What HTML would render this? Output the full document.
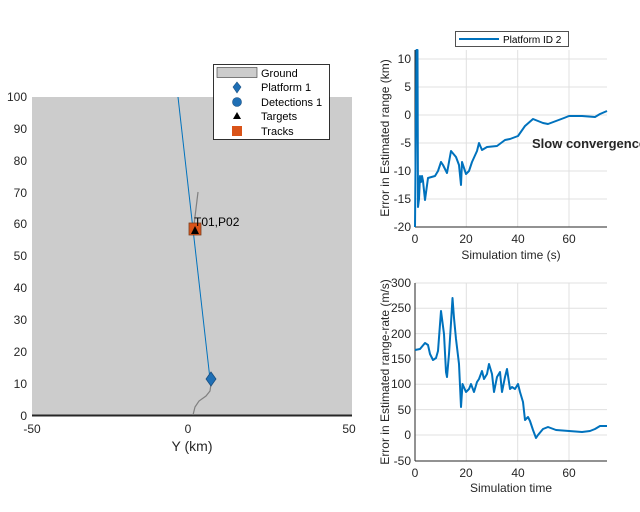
<!DOCTYPE html>
<html><head><meta charset="utf-8"><style>
html,body{margin:0;padding:0;background:#fff;overflow:hidden;}
svg{display:block;font-family:"Liberation Sans",sans-serif;}
</style></head><body>
<svg width="640" height="512" viewBox="0 0 640 512">
<rect x="32" y="97" width="320" height="319" fill="#cccccc"/>
<line x1="32" y1="415.5" x2="352" y2="415.5" stroke="#262626" stroke-width="2"/>
<g font-size="12" fill="#262626" text-anchor="end">
<text x="27" y="420">0</text><text x="27" y="388">10</text><text x="27" y="356">20</text>
<text x="27" y="324">30</text><text x="27" y="292">40</text><text x="27" y="260">50</text>
<text x="27" y="228">60</text><text x="27" y="197">70</text><text x="27" y="165">80</text>
<text x="27" y="133">90</text><text x="27" y="101">100</text>
</g>
<g font-size="12" fill="#262626" text-anchor="middle">
<text x="32" y="433">-50</text><text x="188" y="433">0</text><text x="349" y="433">50</text>
<text x="192" y="451" font-size="14">Y (km)</text>
</g>
<polyline points="198,192 194,225" fill="none" stroke="#808080" stroke-width="1.2"/>
<polyline points="211,384 210,391 206,396 199,401 195,407 193,415" fill="none" stroke="#808080" stroke-width="1.2"/>
<line x1="178" y1="97" x2="210" y2="379" stroke="#0072bd" stroke-width="1"/>
<polygon points="211,372 216,379 211,386 206,379" fill="#1f6fb5" stroke="#1a4f80" stroke-width="0.8"/>
<rect x="189" y="223" width="12" height="12" fill="#d95319" stroke="#7a4020" stroke-width="0.8"/>
<polygon points="195,226 199,234 191,234" fill="#000"/>
<text x="194" y="226" font-size="12" fill="#000">T01,P02</text>
<rect x="213.5" y="64.5" width="116" height="75" fill="#fff" stroke="#000" stroke-width="0.8"/>
<rect x="217" y="67.5" width="40" height="10" fill="#cccccc" stroke="#333" stroke-width="0.6"/>
<g font-size="11" fill="#000">
<text x="261" y="77">Ground</text><text x="261" y="91">Platform 1</text><text x="261" y="106">Detections 1</text>
<text x="261" y="120">Targets</text><text x="261" y="135">Tracks</text>
</g>
<polygon points="237,82 241,87 237,93 233,87" fill="#1f6fb5" stroke="#1a4f80" stroke-width="0.6"/>
<circle cx="237" cy="102" r="4.5" fill="#1f6fb5" stroke="#1a4f80" stroke-width="0.6"/>
<polygon points="237,112 241,119 233,119" fill="#000"/>
<rect x="232" y="126" width="10" height="10" fill="#d95319"/>
<g stroke="#e0e0e0" stroke-width="1">
<line x1="466.3" y1="50" x2="466.3" y2="227"/><line x1="517.7" y1="50" x2="517.7" y2="227"/><line x1="569" y1="50" x2="569" y2="227"/>
<line x1="415" y1="59" x2="607" y2="59"/><line x1="415" y1="87" x2="607" y2="87"/><line x1="415" y1="115" x2="607" y2="115"/>
<line x1="415" y1="143" x2="607" y2="143"/><line x1="415" y1="171" x2="607" y2="171"/><line x1="415" y1="199" x2="607" y2="199"/>
</g>
<line x1="415" y1="50" x2="415" y2="227" stroke="#262626"/>
<line x1="415" y1="227" x2="607" y2="227" stroke="#262626"/>
<g font-size="12" fill="#262626" text-anchor="end">
<text x="411" y="63">10</text><text x="411" y="91">5</text><text x="411" y="119">0</text>
<text x="411" y="147">-5</text><text x="411" y="175">-10</text><text x="411" y="203">-15</text><text x="411" y="231">-20</text>
</g>
<g font-size="12" fill="#262626" text-anchor="middle">
<text x="415" y="243">0</text><text x="466" y="243">20</text><text x="518" y="243">40</text><text x="569" y="243">60</text>
<text x="511" y="259">Simulation time (s)</text>
</g>
<text transform="translate(389,138) rotate(-90)" font-size="12" fill="#262626" text-anchor="middle">Error in Estimated range (km)</text>
<polyline fill="none" stroke="#0072bd" stroke-width="2" stroke-linejoin="round" points="415,227 416.5,50 417.5,50 418,207 419,199 420,176 421,182 422,176 423,181 425,200 428,178 435,176 438,171 441,162 443,165 447,173 451,151 456,157 459,165 461,185 462,162 466,174 469,171 472,162 477,151 479,143 482,150 487,147 497,146 505,140 510,139 518,136 525,126 533,119 538,121 543,123 548,124 556,121 564,118 569,116 582,116 595,117 600,114 607,111"/>
<text x="532" y="148" font-size="13" font-weight="bold" fill="#262626">Slow convergence</text>
<rect x="455.5" y="31.5" width="113" height="15" fill="#fff" stroke="#262626" stroke-width="0.8"/>
<line x1="459" y1="39" x2="499" y2="39" stroke="#0072bd" stroke-width="2"/>
<text x="503" y="43" font-size="10" fill="#000">Platform ID 2</text>
<g stroke="#e0e0e0" stroke-width="1">
<line x1="466.3" y1="283" x2="466.3" y2="461"/><line x1="517.7" y1="283" x2="517.7" y2="461"/><line x1="569" y1="283" x2="569" y2="461"/>
<line x1="415" y1="283" x2="607" y2="283"/><line x1="415" y1="308.3" x2="607" y2="308.3"/><line x1="415" y1="333.6" x2="607" y2="333.6"/>
<line x1="415" y1="359" x2="607" y2="359"/><line x1="415" y1="384.3" x2="607" y2="384.3"/><line x1="415" y1="409.6" x2="607" y2="409.6"/><line x1="415" y1="435" x2="607" y2="435"/>
</g>
<line x1="415" y1="283" x2="415" y2="461" stroke="#262626"/>
<line x1="415" y1="461" x2="607" y2="461" stroke="#262626"/>
<g font-size="12" fill="#262626" text-anchor="end">
<text x="411" y="287">300</text><text x="411" y="312">250</text><text x="411" y="338">200</text><text x="411" y="363">150</text>
<text x="411" y="388">100</text><text x="411" y="414">50</text><text x="411" y="439">0</text><text x="411" y="465">-50</text>
</g>
<g font-size="12" fill="#262626" text-anchor="middle">
<text x="415" y="477">0</text><text x="466" y="477">20</text><text x="518" y="477">40</text><text x="569" y="477">60</text>
<text x="511" y="492">Simulation time</text>
</g>
<text transform="translate(389,372) rotate(-90)" font-size="12" fill="#262626" text-anchor="middle">Error in Estimated range-rate (m/s)</text>
<polyline fill="none" stroke="#0072bd" stroke-width="2" stroke-linejoin="round" points="415,350 420,349 425,343 428,345 430,354 433,360 436,358 438,351 441,311 444,334 446,372 447,377 449,354 451,323 452.5,298 454,318 456,339 459,364 461,407 462.5,384 466,392 469,389 471,384 474,392 477,382 479,379 482,371 484,379 487,374 489,364 492,374 494,392 497,377 500,372 502,392 505,377 507,369 510,389 512,387 515,389 518,384 520,392 523,402 525,420 528,417 530,421 533,430 536,438 538,435 543,429 548,427 556,430 569,431 582,432 590,431 595,429 600,426 607,426"/>
</svg>
</body></html>
